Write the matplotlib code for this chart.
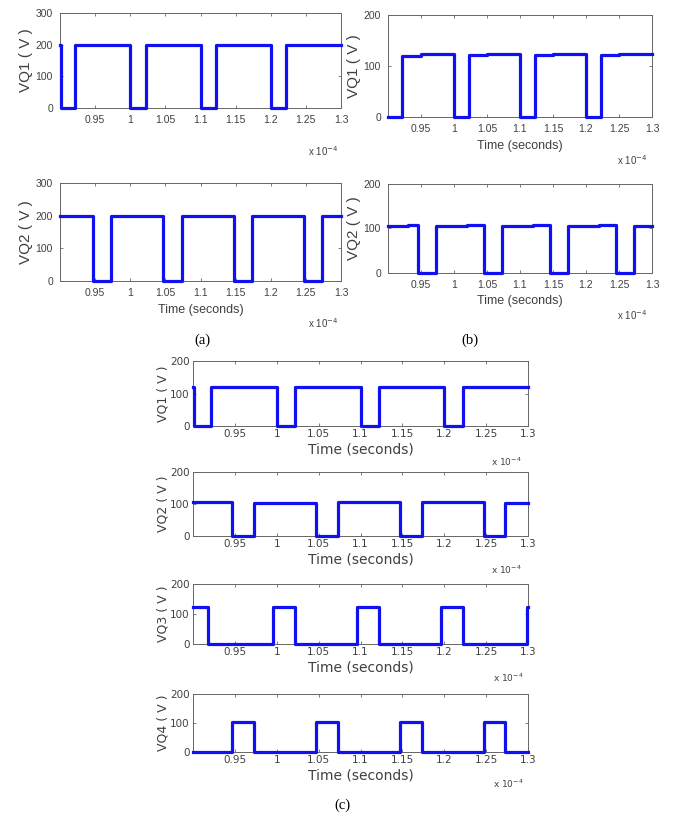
import matplotlib
matplotlib.use("Agg")
import matplotlib.pyplot as plt

# time in units of 1e-4 s, voltages in V
x_ticks = [0.95, 1.0, 1.05, 1.1, 1.15, 1.2, 1.25, 1.3]
x_tick_labels = ["0.95", "1", "1.05", "1.1", "1.15", "1.2", "1.25", "1.3"]

a_vq1_t = [0.9, 0.9015, 0.922, 1.0, 1.022, 1.1, 1.122, 1.2, 1.222, 1.3]
a_vq1_v = [200, 0, 200, 0, 200, 0, 200, 0, 200, 200]
a_vq2_t = [0.9, 0.947, 0.973, 1.047, 1.073, 1.147, 1.173, 1.247, 1.273, 1.3]
a_vq2_v = [200, 0, 200, 0, 200, 0, 200, 0, 200, 200]

b_vq1_t = [0.9, 0.921, 0.95, 1.0, 1.022, 1.05, 1.1, 1.122, 1.15, 1.2, 1.222, 1.25, 1.3]
b_vq1_v = [0, 120, 123, 0, 121, 123, 0, 121, 123, 0, 121, 123, 123]
b_vq2_t = [0.9, 0.93, 0.946, 0.973, 1.02, 1.046, 1.073, 1.12, 1.146, 1.173, 1.22, 1.246, 1.273, 1.3]
b_vq2_v = [105, 107, 0, 105, 107, 0, 105, 107, 0, 105, 107, 0, 105, 105]

c_vq1_t = [0.9, 0.9015, 0.922, 1.0, 1.022, 1.1, 1.122, 1.2, 1.222, 1.3]
c_vq1_v = [120, 0, 120, 0, 121, 0, 121, 0, 121, 121]
c_vq2_t = [0.9, 0.947, 0.973, 1.047, 1.073, 1.147, 1.173, 1.247, 1.273, 1.3]
c_vq2_v = [105, 0, 104, 0, 105, 0, 105, 0, 104, 104]
c_vq3_t = [0.9, 0.918, 0.996, 1.022, 1.096, 1.122, 1.196, 1.222, 1.299, 1.3]
c_vq3_v = [122, 0, 122, 0, 122, 0, 122, 0, 122, 122]
c_vq4_t = [0.9, 0.947, 0.973, 1.047, 1.073, 1.147, 1.173, 1.247, 1.273, 1.3]
c_vq4_v = [0, 104, 0, 104, 0, 104, 0, 104, 0, 0]

W, H = 674, 816
fig = plt.figure(figsize=(W / 100, H / 100), dpi=100)

LINE = "#1010f0"
TXT = "#404040"

# top panels: narrower, taller text; bottom ones: wide text
TOP = dict(family=["Liberation Sans", "DejaVu Sans"],
           tick=7.5, xlab=9, ylab=11, exp=7, tpad=5, xpad=4, ypad=2)
BOTTOM = dict(family=["DejaVu Sans"], tick=7.5, xlab=10, ylab=9, exp=6.5,
              tpad=2.5, xpad=2, ypad=0)


def make_axes(left, right, top, bottom):
    return fig.add_axes([left / W, 1 - bottom / H, (right - left) / W, (bottom - top) / H])


def panel(box, t, v, ylabel, ymax, st, exp_pos, xlabel=True):
    ax = make_axes(*box)
    ax.step(t, v, where="post", color=LINE, lw=2.3, clip_on=False, zorder=3)
    ax.set_xlim(0.9, 1.3)
    ax.set_ylim(0, ymax)
    ax.set_xticks(x_ticks)
    ax.set_xticklabels(x_tick_labels, family=st["family"])
    yt = list(range(0, ymax + 1, 100))
    ax.set_yticks(yt)
    ax.set_yticklabels([str(y) for y in yt], family=st["family"])
    ax.tick_params(direction="in", top=True, right=True, length=2.5, width=0.6,
                   labelsize=st["tick"], colors="#666666", labelcolor=TXT, pad=st["tpad"])
    for s in ax.spines.values():
        s.set_color("#666666")
        s.set_linewidth(0.7)
    ax.set_ylabel(ylabel, fontsize=st["ylab"], color=TXT, labelpad=st["ypad"],
                  family=st["family"])
    if xlabel:
        ax.set_xlabel("Time (seconds)", fontsize=st["xlab"], color=TXT,
                      labelpad=st["xpad"], family=st["family"])
    ex, ey = exp_pos
    fig.text(ex / W, 1 - ey / H, r"x 10$^{-4}$", fontsize=st["exp"], color=TXT,
             ha="right", va="center", family=st["family"])
    return ax


# (a)
panel((60, 341, 13, 108), a_vq1_t, a_vq1_v, "VQ1 ( V )", 300, TOP, (338, 151), xlabel=False)
panel((60, 341, 183, 281), a_vq2_t, a_vq2_v, "VQ2 ( V )", 300, TOP, (338, 323))
# (b)
panel((388, 652, 15, 117), b_vq1_t, b_vq1_v, "VQ1 ( V )", 200, TOP, (647, 160))
panel((388, 652, 184, 273), b_vq2_t, b_vq2_v, "VQ2 ( V )", 200, TOP, (647, 315))
# (c)
panel((193, 528, 361, 426), c_vq1_t, c_vq1_v, "VQ1 ( V )", 200, BOTTOM, (522, 462))
panel((193, 528, 472, 536), c_vq2_t, c_vq2_v, "VQ2 ( V )", 200, BOTTOM, (522, 570))
panel((193, 528, 584, 644), c_vq3_t, c_vq3_v, "VQ3 ( V )", 200, BOTTOM, (524, 678))
panel((193, 528, 694, 752), c_vq4_t, c_vq4_v, "VQ4 ( V )", 200, BOTTOM, (524, 784))

for lab, x, y in [("(a)", 202, 340), ("(b)", 470, 340), ("(c)", 342, 805)]:
    fig.text(x / W, 1 - y / H, lab, fontsize=10.5, family="Liberation Serif",
             ha="center", va="center", color="black")

fig.savefig("out.png", dpi=100)
